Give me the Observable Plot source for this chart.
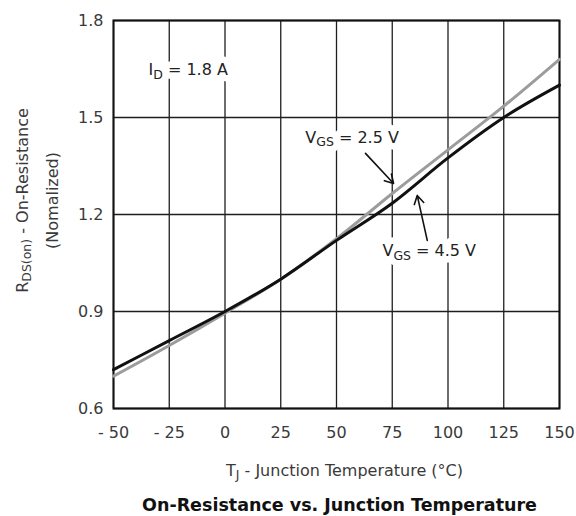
<!DOCTYPE html>
<html>
<head>
<meta charset="utf-8">
<script src="https://cdn.jsdelivr.net/npm/d3@7"></script>
<script src="https://cdn.jsdelivr.net/npm/@observablehq/plot@0.6"></script>
<style>
  html, body { margin: 0; padding: 0; background: #fff; }
  #chart svg { display: block; }
</style>
</head>
<body>
<div id="chart"></div>
<script>
// ---- data ----
const temps = [-50, -25, 0, 25, 50, 75, 100, 125, 150];
const rVgs25 = [0.70, 0.795, 0.895, 1.0, 1.125, 1.265, 1.40, 1.535, 1.68];
const rVgs45 = [0.72, 0.81, 0.90, 1.0, 1.12, 1.235, 1.375, 1.50, 1.60];
const xTicks = [-50, -25, 0, 25, 50, 75, 100, 125, 150];
const yTicks = [0.6, 0.9, 1.2, 1.5, 1.8];
const seriesNames = ["V_{GS} = 2.5 V", "V_{GS} = 4.5 V"];
const conditionLabel = "I_{D} = 1.8 A";
const xLabel = "T_{J} - Junction Temperature (°C)";
const yLabel1 = "R_{DS(on)} - On-Resistance";
const yLabel2 = "(Nomalized)";
const title = "On-Resistance vs. Junction Temperature";

const d25 = temps.map((t, i) => ({t, r: rVgs25[i]}));
const d45 = temps.map((t, i) => ({t, r: rVgs45[i]}));

const font = "'DejaVu Sans', 'Liberation Sans', Arial, sans-serif";

const chart = Plot.plot({
  width: 576,
  height: 516,
  marginLeft: 113,
  marginRight: 17,
  marginTop: 20,
  marginBottom: 108,
  style: {fontFamily: font, fontSize: "16px", color: "#333", background: "white"},
  x: {domain: [-50, 150]},
  y: {domain: [0.6, 1.8]},
  marks: [
    Plot.gridX(xTicks, {stroke: "#1e1e1e", strokeOpacity: 1, strokeWidth: 1.3}),
    Plot.gridY(yTicks, {stroke: "#1e1e1e", strokeOpacity: 1, strokeWidth: 1.3}),
    Plot.axisX(xTicks, {tickSize: 0, tickPadding: 18, fontSize: 16, fill: "#3a3a3a",
      tickFormat: d => d < 0 ? "- " + Math.abs(d) : String(d), label: null}),
    Plot.axisY(yTicks, {tickSize: 0, tickPadding: 10, fontSize: 16, fill: "#3a3a3a",
      tickFormat: d3.format(".1f"), label: null}),
    // annotation labels (with white backing like the original)
    Plot.text([conditionLabel], {x: -34.3, y: 1.648, text: d => d, textAnchor: "start",
      fontSize: 16, fill: "#222"}),
    Plot.text([seriesNames[0]], {x: 36, y: 1.438, text: d => d, textAnchor: "start",
      fontSize: 16, fill: "#222"}),
    Plot.text([seriesNames[1]], {x: 70.6, y: 1.086, text: d => d, textAnchor: "start",
      fontSize: 16, fill: "#222"}),
    Plot.frame({stroke: "#111", strokeWidth: 2}),
    // curves
    Plot.line(d25, {x: "t", y: "r", stroke: "#9c9c9c", strokeWidth: 3, curve: "monotone-x"}),
    Plot.line(d45, {x: "t", y: "r", stroke: "#111", strokeWidth: 3, curve: "monotone-x"}),
    // pointer arrows
    Plot.arrow([{x1: 63, y1: 1.389, x2: 75.6, y2: 1.296}], {x1: "x1", y1: "y1", x2: "x2", y2: "y2",
      stroke: "#111", strokeWidth: 1.6, headLength: 9, bend: 0}),
    Plot.arrow([{x1: 90.7, y1: 1.12, x2: 86.2, y2: 1.259}], {x1: "x1", y1: "y1", x2: "x2", y2: "y2",
      stroke: "#111", strokeWidth: 1.6, headLength: 9, bend: 0}),
    // axis titles
    Plot.text([yLabel1], {frameAnchor: "left", text: d => d, rotate: -90, dx: -91, dy: -14,
      fontSize: 16, fill: "#3a3a3a", textAnchor: "middle", lineAnchor: "middle"}),
    Plot.text([yLabel2], {frameAnchor: "left", text: d => d, rotate: -90, dx: -61, dy: -14,
      fontSize: 16, fill: "#3a3a3a", textAnchor: "middle", lineAnchor: "middle"}),
    Plot.text([xLabel], {frameAnchor: "bottom", text: d => d, dx: 8, dy: 62,
      fontSize: 16, fill: "#3a3a3a", textAnchor: "middle", lineAnchor: "middle"}),
    Plot.text([title], {frameAnchor: "bottom", text: d => d, dx: 3, dy: 97,
      fontSize: 17.5, fontWeight: "bold", fill: "#111", textAnchor: "middle", lineAnchor: "middle"})
  ]
});

// turn "X_{sub}" markup into real subscripts
function subscript(el) {
  const s = el.textContent;
  const parts = s.split(/(_\{[^}]*\})/).filter(p => p.length);
  while (el.firstChild) el.removeChild(el.firstChild);
  const sel = d3.select(el);
  let shifted = false;
  for (const p of parts) {
    if (p.startsWith("_{")) {
      sel.append("tspan").attr("dy", "0.3em").attr("font-size", "0.78em").text(p.slice(2, -1));
      shifted = true;
    } else {
      const ts = sel.append("tspan").text(p);
      if (shifted) { ts.attr("dy", "-0.234em"); shifted = false; }
    }
  }
}
const targets = [];
d3.select(chart).selectAll("text").each(function() {
  if (this.textContent.includes("_{")) targets.push(this);
});
for (const el of targets) {
  const s = el.textContent;
  subscript(el);
  // in-plot labels get a white backing (drawn as a separate copy underneath)
  if (s === conditionLabel || seriesNames.includes(s)) {
    const back = el.cloneNode(true);
    d3.select(back).attr("fill", "white").attr("stroke", "white").attr("stroke-width", 13)
      .attr("stroke-linejoin", "round").attr("aria-hidden", "true");
    el.parentNode.insertBefore(back, el);
  }
}

document.getElementById("chart").appendChild(chart);
</script>
</body>
</html>
